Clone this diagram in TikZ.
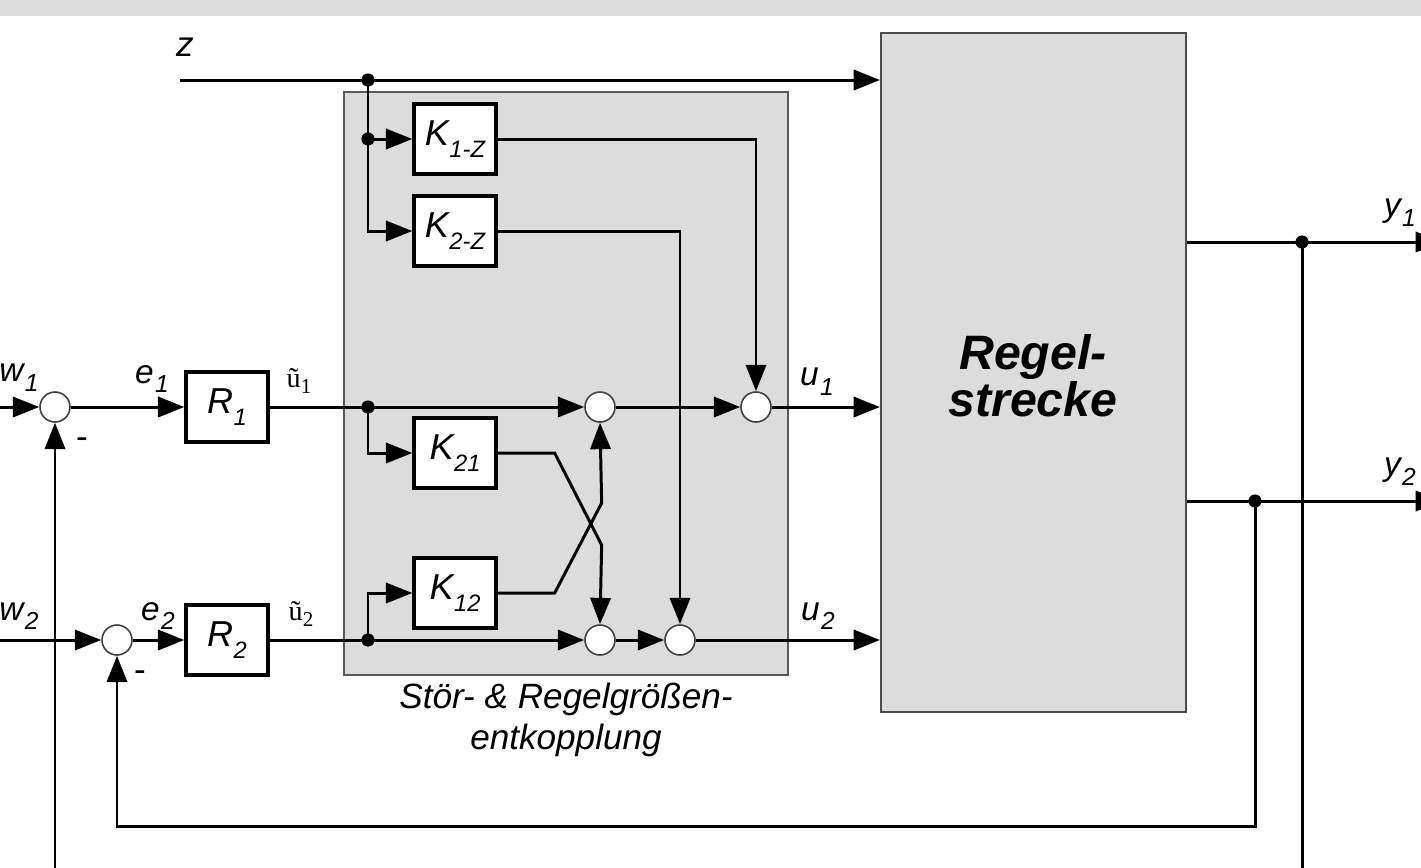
\documentclass[tikz,border=0pt]{standalone}
\usepackage{fontspec}
\setmainfont{Liberation Sans}
\newfontfamily\serifu{Liberation Serif}
\usetikzlibrary{arrows.meta}
\definecolor{boxgray}{HTML}{DCDCDC}
\newcommand\lbl[2]{{\itshape\fontsize{19}{19}\selectfont #1\kern0.8pt\raisebox{-5.5pt}{\fontsize{14}{14}\selectfont #2}}}
\newcommand\klbl[2]{{\itshape\fontsize{20.5}{20.5}\selectfont #1\kern0.3pt\raisebox{-7pt}{\fontsize{13.5}{13.5}\selectfont #2}}}
\newcommand\ulbl[1]{{\serifu\fontsize{16}{16}\selectfont ũ\raisebox{-0.4ex}{\fontsize{12}{12}\selectfont #1}}}
\begin{document}
\begin{tikzpicture}[x=0.02cm,y=-0.02cm,
  sig/.style={line width=1.7pt},
  arr/.style={sig,-{Triangle[length=15pt,width=11.5pt]}},
  blk/.style={draw=black,line width=1.9pt,fill=white,minimum width=1.64cm,minimum height=1.4cm,inner sep=0pt},
  sumc/.style={circle,draw=black!75,line width=0.9pt,fill=white,minimum size=0.6cm,inner sep=0pt},
  dotc/.style={circle,fill=black,minimum size=7.5pt,inner sep=0pt},
  txt/.style={inner sep=0pt}]
\useasboundingbox (0,0) rectangle (1421,867);
\clip (0,0) rectangle (1421,867);
\fill[boxgray] (0,0) rectangle (1421,16);

% big boxes
\node[draw=black!65,line width=1.2pt,fill=boxgray,minimum width=8.88cm,minimum height=11.66cm,inner sep=0pt] (dec) at (566,383.5) {};
\node[draw=black!70,line width=1.2pt,fill=boxgray,minimum width=6.1cm,minimum height=13.58cm,inner sep=0pt] (P) at (1033.5,372.5) {};
\node[txt,align=center,font=\bfseries\itshape\fontsize{27.5}{24.5}\selectfont] (Ptxt) at (1033,376) {Regel-\\strecke};

% blocks
\node[blk] (K1Z) at (455,139) {\klbl{K}{1-Z}};
\node[blk] (K2Z) at (455,231) {\klbl{K}{2-Z}};
\node[blk] (K21) at (455,453) {\klbl{K}{21}};
\node[blk] (K12) at (455,593) {\klbl{K}{12}};
\node[blk] (R1) at (227,407) {\klbl{R}{1}};
\node[blk] (R2) at (227,640) {\klbl{R}{2}};

% summing points
\node[sumc] (S1a) at (55,407) {};
\node[sumc] (S1c) at (600,407) {};
\node[sumc] (S1b) at (756,407) {};
\node[sumc] (S2in) at (117,640) {};
\node[sumc] (S2a) at (600,640) {};
\node[sumc] (S2b) at (680,640) {};

% coordinates
\coordinate (zin) at (180,80);
\coordinate (zj) at (368,80);
\coordinate (kj) at (368,139);
\coordinate (j1) at (368,407);
\coordinate (j2) at (368,640);
\coordinate (w1in) at (0,407);
\coordinate (w2in) at (0,640);
\coordinate (yj1) at (1302,242);
\coordinate (yj2) at (1255,501);
\coordinate (y1e) at (1442,242);
\coordinate (y2e) at (1442,501);
\coordinate (fb2) at (1255,826);
\coordinate (fb1) at (1302,900);

% z path
\draw[arr] (zin) -- (P.west |- zin);
\draw[sig] (zj) -- (kj);
\draw[arr] (kj) |- (K2Z.west);
\draw[arr] (kj) -- (K1Z.west);
\draw[arr] (K1Z.east) -| (S1b.north);
\draw[arr] (K2Z.east) -| (S2b.north);

% row 1
\draw[arr] (w1in) -- (S1a.west);
\draw[arr] (S1a.east) -- (R1.west);
\draw[sig] (R1.east) -- (j1);
\draw[arr] (j1) -- (S1c.west);
\draw[arr] (S1c.east) -- (S1b.west);
\draw[arr] (S1b.east) -- (P.west |- S1b);
\draw[arr] (j1) |- (K21.west);
\draw[arr] (K21.east) -- ++(57,0) -- ++(47,92) -- (S2a.north);

% row 2
\draw[arr] (w2in) -- (S2in.west);
\draw[arr] (S2in.east) -- (R2.west);
\draw[sig] (R2.east) -- (j2);
\draw[arr] (j2) -- (S2a.west);
\draw[arr] (S2a.east) -- (S2b.west);
\draw[arr] (S2b.east) -- (P.west |- S2b);
\draw[arr] (j2) |- (K12.west);
\draw[arr] (K12.east) -- ++(57,0) -- ++(47,-90) -- (S1c.south);

% outputs and feedback
\draw[arr] (P.east |- y1e) -- (y1e);
\draw[arr] (P.east |- y2e) -- (y2e);
\draw[arr] (yj2) -- (fb2) -| (S2in.south);
\draw[arr] (yj1) -- (fb1) -| (S1a.south);

% dots
\foreach \d in {zj,kj,j1,j2,yj1,yj2} \node[dotc] at (\d) {};

% labels
\node[txt] (lz) at (185,47) {\itshape\fontsize{20}{20}\selectfont z};
\node[txt] (lw1) at (19,378) {\lbl{w}{1}};
\node[txt] (le1) at (152,379) {\lbl{e}{1}};
\node[txt] (lu1t) at (299,381) {\ulbl{1}};
\node[txt] (lu1) at (817,382) {\lbl{u}{1}};
\node[txt] (lw2) at (19,616) {\lbl{w}{2}};
\node[txt] (le2) at (158,616) {\lbl{e}{2}};
\node[txt] (lu2t) at (301,614) {\ulbl{2}};
\node[txt] (lu2) at (818,616) {\lbl{u}{2}};
\node[txt] (ly1) at (1400,213) {\lbl{y}{1}};
\node[txt] (ly2) at (1400,472) {\lbl{y}{2}};
\node[txt] (m1) at (82,443) {\fontsize{20}{20}\selectfont -};
\node[txt] (m2) at (140,676) {\fontsize{20}{20}\selectfont -};
\node[txt,align=center,font=\itshape\fontsize{20}{23}\selectfont] (cap) at (566,720) {Stör- \& Regelgrößen-\\entkopplung};
\end{tikzpicture}
\end{document}
